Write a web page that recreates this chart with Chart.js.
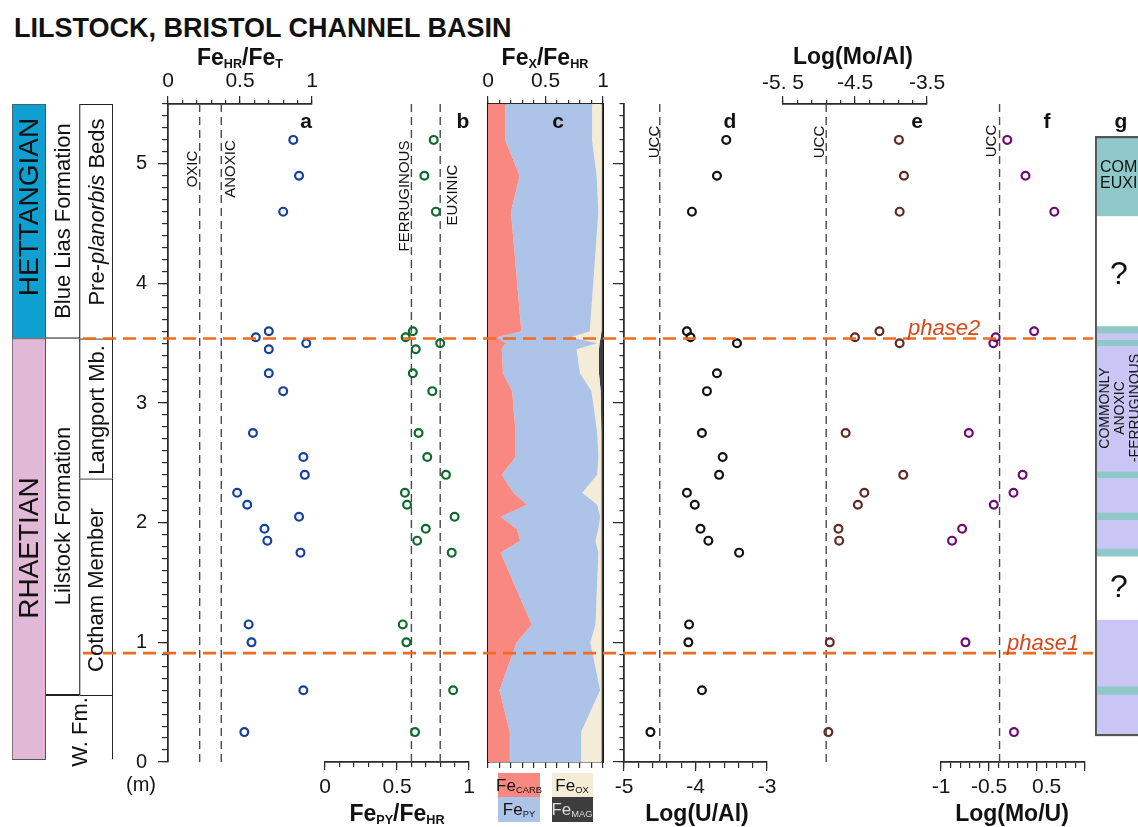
<!DOCTYPE html>
<html>
<head>
<meta charset="utf-8">
<script src="https://cdn.jsdelivr.net/npm/chart.js@4.4.1/dist/chart.umd.min.js"></script>
<style>
  html, body { margin: 0; padding: 0; background: #fff; }
  #stage { position: relative; width: 1138px; height: 827px; overflow: hidden;
           font-family: "Liberation Sans", Arial, sans-serif; color: #111; }
  #stage canvas { position: absolute; }
  .t { position: absolute; white-space: nowrap; line-height: 1; transform: translate(-50%, -50%); }
  .l { transform: translate(0, -50%); }
  .r { transform: translate(-50%, -50%) rotate(-90deg); }
  .b { font-weight: bold; }
  .box { position: absolute; }
  sub { font-size: 0.55em; vertical-align: -0.3em; line-height: 0; }
</style>
</head>
<body>
<div id="stage"></div>
<script>
// ---- data (depth in m) ----
const depthTicks = [0, 1, 2, 3, 4, 5];

// panels a and b
const depthAB = [5.2, 4.9, 4.6, 3.6, 3.55, 3.5, 3.45, 3.25, 3.1, 2.75, 2.55, 2.4, 2.25, 2.15, 2.05, 1.95, 1.85, 1.75, 1.15, 1.0, 0.6, 0.25];
const feHrFeT = [0.87, 0.91, 0.80, 0.70, 0.61, 0.96, 0.70, 0.70, 0.80, 0.59, 0.94, 0.95, 0.48, 0.55, 0.91, 0.67, 0.69, 0.92, 0.56, 0.58, 0.94, 0.53];
const fePyFeHr = [0.755, 0.69, 0.77, 0.61, 0.56, 0.80, 0.63, 0.61, 0.745, 0.65, 0.71, 0.84, 0.555, 0.57, 0.90, 0.70, 0.64, 0.88, 0.54, 0.565, 0.89, 0.625];
const feHrFeTLimits = [0.22, 0.37];   // OXIC, ANOXIC
const fePyFeHrLimits = [0.6, 0.8];    // FERRUGINOUS, EUXINIC
const feTicks = [0, 0.5, 1];

// panel c (Fe speciation fractions)
const cDepth = [0, 0.25, 0.6, 1.0, 1.15, 1.75, 1.85, 1.95, 2.05, 2.15, 2.25, 2.4, 2.55, 2.75, 3.1, 3.25, 3.45, 3.5, 3.55, 3.6, 4.6, 4.9, 5.2, 5.5];
const feCarb = [0.19, 0.19, 0.10, 0.25, 0.38, 0.11, 0.28, 0.25, 0.11, 0.34, 0.22, 0.12, 0.24, 0.24, 0.21, 0.13, 0.12, 0.15, 0.08, 0.29, 0.20, 0.275, 0.15, 0.15];
const fePy = [0.62, 0.62, 0.875, 0.64, 0.555, 0.85, 0.655, 0.71, 0.865, 0.61, 0.60, 0.83, 0.72, 0.71, 0.69, 0.67, 0.65, 0.80, 0.64, 0.595, 0.76, 0.67, 0.755, 0.755];
const feOx = [0.178, 0.178, 0.013, 0.098, 0.053, 0.025, 0.05, 0.025, 0.01, 0.035, 0.165, 0.035, 0.025, 0.035, 0.08, 0.165, 0.195, 0.02, 0.26, 0.10, 0.028, 0.043, 0.083, 0.083];
const feMag = [0.012, 0.012, 0.012, 0.012, 0.012, 0.015, 0.015, 0.015, 0.015, 0.015, 0.015, 0.015, 0.015, 0.015, 0.02, 0.035, 0.035, 0.03, 0.02, 0.015, 0.012, 0.012, 0.012, 0.012];

// panel d
const depthD = [5.2, 4.9, 4.6, 3.6, 3.55, 3.5, 3.25, 3.1, 2.75, 2.55, 2.4, 2.25, 2.15, 1.95, 1.85, 1.75, 1.15, 1.0, 0.6, 0.25];
const logUAl = [-3.57, -3.70, -4.05, -4.12, -4.07, -3.42, -3.70, -3.84, -3.91, -3.62, -3.67, -4.12, -4.01, -3.93, -3.82, -3.39, -4.09, -4.10, -3.91, -4.63];
const uccUAl = -4.5;
const uAlTicks = [-5, -4, -3];

// panels e and f
const depthEF = [5.2, 4.9, 4.6, 3.6, 3.55, 3.5, 2.75, 2.4, 2.25, 2.15, 1.95, 1.85, 1.0, 0.25];
const logMoAl = [-3.89, -3.82, -3.88, -4.16, -4.50, -3.88, -4.63, -3.83, -4.37, -4.46, -4.73, -4.72, -4.85, -4.87];
const logMoU = [-0.31, -0.12, 0.18, -0.03, -0.43, -0.455, -0.71, -0.15, -0.245, -0.45, -0.78, -0.885, -0.745, -0.24];
const uccMoAl = -4.9;
const uccMoU = -0.39;
const moAlTicks = [-5.5, -4.5, -3.5];
const moAlTickText = ['-5. 5', '-4.5', '-3.5'];
const moUTickText = ['-1', '-0.5', '0.5'];

// panel g (redox interpretation)
const gBase = [0.217, 0.56, 0.629, 1.186, 1.715, 1.78, 2.02, 2.08, 2.37, 2.425, 3.475, 3.525, 3.58, 3.64, 4.56];
const gTop = [0.56, 0.629, 1.186, 1.715, 1.78, 2.02, 2.08, 2.37, 2.425, 3.475, 3.525, 3.58, 3.64, 4.56, 5.23];
const gState = ['anoxic', 'euxinic', 'anoxic', 'unknown', 'euxinic', 'anoxic', 'euxinic', 'anoxic', 'euxinic',
                'anoxic', 'euxinic', 'anoxic', 'euxinic', 'unknown', 'euxinic'];

// stratigraphy
const stageSpan = [[3.54, 5.5], [0.02, 3.54]];          // HETTANGIAN, RHAETIAN
const formationSpan = [[3.54, 5.5], [0.56, 3.54]];      // Blue Lias, Lilstock
const memberSpan = [[3.54, 5.5], [2.37, 3.54], [0.56, 2.37]]; // Pre-planorbis, Langport, Cotham
const wFmSpan = [0.02, 0.56];

// event horizons
const phaseDepth = [0.91, 3.54];

// ---- drawing ----
const FONT = '"Liberation Sans", Arial, sans-serif';
const INK = '#2b2b2b';
Chart.defaults.font.family = FONT;
Chart.defaults.color = '#111';

const stage = document.getElementById('stage');
const TOP = 104, BOT = 762, M = 60, LAB = 50;

function steps(a, b, s) {
  const n = Math.round((b - a) / s);
  return Array.from({ length: n + 1 }, (_, i) => +(a + i * s).toFixed(6));
}

function makeChart(x0, x1, config) {
  const cv = document.createElement('canvas');
  const w = x1 - x0 + 2 * M, h = BOT - TOP + 2 * M;
  cv.width = w; cv.height = h;
  cv.style.cssText = `left:${x0 - M}px;top:${TOP - M}px;width:${w}px;height:${h}px`;
  stage.appendChild(cv);
  // axes carrying labels get a real box; shrink the padding on that side by the same amount
  const pad = { top: M, bottom: M, left: M, right: M };
  Object.values((config.options || {}).scales || {}).forEach(s => {
    if (s.ticks && s.ticks.display && s.position) pad[s.position] = M - LAB;
  });
  config.options = Object.assign({
    responsive: false, animation: false, events: [], devicePixelRatio: 1,
    layout: { padding: pad },
    plugins: { legend: { display: false }, tooltip: { enabled: false } }
  }, config.options);
  return new Chart(cv, config);
}

function tickAxis(position, min, max, values, len, lab) {
  const horiz = position === 'top' || position === 'bottom';
  const size = lab ? LAB : 0;
  return {
    type: 'linear', axis: horiz ? 'x' : 'y', position, min, max, weight: lab ? 2 : 0,
    afterFit: s => { if (horiz) s.height = size; else s.width = size; },
    afterBuildTicks: s => { s.ticks = values.map(v => ({ value: v })); },
    grid: { drawOnChartArea: false, drawTicks: true, tickLength: len, color: INK, tickColor: INK, lineWidth: 1.2, tickWidth: 1.2 },
    border: { display: true, color: INK, width: 1.5 },
    ticks: {
      display: !!lab, autoSkip: false, maxRotation: 0, minRotation: 0,
      padding: lab ? lab.pad : 0, color: '#151515',
      font: { family: FONT, size: lab ? lab.size : 12 },
      callback: v => {
        if (!lab) return '';
        const i = lab.at.findIndex(a => Math.abs(a - v) < 1e-6);
        return i < 0 ? '' : lab.text[i];
      }
    }
  };
}
function edgeAxis(position) {
  return {
    type: 'linear', axis: 'y', position, min: 0, max: 5.5,
    afterFit: s => { s.width = 0; },
    afterBuildTicks: s => { s.ticks = [{ value: 0 }, { value: 5.5 }]; },
    grid: { drawOnChartArea: false, drawTicks: false },
    ticks: { display: false },
    border: { display: true, color: '#151515', width: 2 }
  };
}
const hiddenDepth = { type: 'linear', min: 0, max: 5.5, display: false };

function points(xs, ys, color) {
  return {
    type: 'scatter', data: xs.map((v, i) => ({ x: v, y: ys[i] })), clip: false,
    pointStyle: 'circle', pointRadius: 3.9, pointBorderWidth: 2.2,
    pointBorderColor: color, pointBackgroundColor: 'rgba(0,0,0,0)', borderColor: color
  };
}
function vline(v) {
  return {
    type: 'scatter', showLine: true, data: [{ x: v, y: 0 }, { x: v, y: 5.5 }],
    borderColor: '#4a4a4a', borderWidth: 1.4, borderDash: [8, 5], pointRadius: 0
  };
}
const depthLabels = { at: depthTicks, text: depthTicks.map(String), size: 20, pad: 11 };
const feLabelsTop = { at: feTicks, text: ['0', '0.5', '1'], size: 21, pad: 2 };

// stratigraphic column
const stratSets = [];
const stageColor = ['#0f9fd0', '#e2b8d7'];
stageSpan.forEach((s, i) => stratSets.push({ data: [s, null, null], backgroundColor: stageColor[i], borderColor: '#555', borderWidth: 1 }));
formationSpan.forEach(s => stratSets.push({ data: [null, s, null], backgroundColor: '#fff', borderColor: '#222', borderWidth: { top: 0, left: 0, right: 0, bottom: 1.3 } }));
memberSpan.forEach(s => stratSets.push({ data: [null, null, s], backgroundColor: '#fff', borderColor: '#222', borderWidth: { top: 1.3, left: 1.3, right: 1.3, bottom: 0 } }));
stratSets.push({ data: [null, wFmSpan, null], backgroundColor: '#fff', borderColor: '#222', borderWidth: { top: 1.3, left: 0, right: 0, bottom: 0 } });
stratSets.push({ data: [null, null, wFmSpan], backgroundColor: '#fff', borderColor: '#222', borderWidth: { top: 1.3, left: 0, right: 1.3, bottom: 0 } });
stratSets.forEach(d => Object.assign(d, { grouped: false, barPercentage: 1, categoryPercentage: 1, borderSkipped: false }));
makeChart(12, 113, {
  type: 'bar',
  data: { labels: ['stage', 'formation', 'member'], datasets: stratSets },
  options: { scales: { x: { display: false }, y: hiddenDepth } }
});

// a
makeChart(168, 312, {
  type: 'scatter',
  data: { datasets: [points(feHrFeT, depthAB, '#15409e'), ...feHrFeTLimits.map(vline)] },
  options: { scales: {
    x: tickAxis('top', 0, 1, steps(0, 1, 0.1), 4),
    xM: tickAxis('top', 0, 1, feTicks, 8, feLabelsTop),
    y: tickAxis('left', 0, 5.5, steps(0, 5.5, 0.1), 6),
    yM: tickAxis('left', 0, 5.5, depthTicks, 10, depthLabels)
  } }
});

// b
makeChart(325, 469, {
  type: 'scatter',
  data: { datasets: [points(fePyFeHr, depthAB, '#0d6a2c'), ...fePyFeHrLimits.map(vline)] },
  options: { scales: {
    x: tickAxis('bottom', 0, 1, steps(0, 1, 0.1), 5),
    xM: tickAxis('bottom', 0, 1, feTicks, 8, { at: feTicks, text: ['0', '0.5', '1'], size: 21, pad: 5 }),
    y: hiddenDepth
  } }
});

// c : stacked Fe speciation
const parts = [feCarb, fePy, feOx, feMag];
const partColor = ['#f98880', '#adc3e8', '#f4ecd6', '#3d3d3d'];
let run = cDepth.map(() => 0);
const cSets = [{ data: cDepth.map(d => ({ x: 0, y: d })), fill: false }];
parts.forEach((arr, k) => {
  run = run.map((v, i) => v + arr[i]);
  cSets.push({ data: run.map((v, i) => ({ x: v, y: cDepth[i] })), fill: '-1', backgroundColor: partColor[k] });
});
cSets.forEach(d => Object.assign(d, { borderWidth: 0, borderColor: 'rgba(0,0,0,0)', pointRadius: 0, tension: 0 }));
makeChart(488, 603, {
  type: 'line',
  data: { datasets: cSets },
  options: {
    indexAxis: 'y',
    scales: {
      x: tickAxis('top', 0, 1, steps(0, 1, 0.1), 4),
      xM: tickAxis('top', 0, 1, feTicks, 8, feLabelsTop),
      xB: tickAxis('bottom', 0, 1, steps(0, 1, 0.1), 6),
      y: edgeAxis('left'),
      yR: edgeAxis('right')
    }
  }
});

// d
makeChart(624, 767, {
  type: 'scatter',
  data: { datasets: [points(logUAl, depthD, '#111'), vline(uccUAl)] },
  options: { scales: {
    x: tickAxis('bottom', -5, -3, steps(-5, -3, 0.2), 6),
    xM: tickAxis('bottom', -5, -3, uAlTicks, 9, { at: uAlTicks, text: uAlTicks.map(String), size: 21, pad: 4 }),
    y: tickAxis('left', 0, 5.5, steps(0, 5.5, 0.1), 4.5),
    yM: tickAxis('left', 0, 5.5, depthTicks, 11)
  } }
});

// e
makeChart(783, 927, {
  type: 'scatter',
  data: { datasets: [points(logMoAl, depthEF, '#5f2a22'), vline(uccMoAl)] },
  options: { scales: {
    x: tickAxis('top', -5.5, -3.5, steps(-5.5, -3.5, 0.2), 4),
    xM: tickAxis('top', -5.5, -3.5, moAlTicks, 8, { at: moAlTicks, text: moAlTickText, size: 21, pad: 0 }),
    y: hiddenDepth
  } }
});

// f
makeChart(941, 1085, {
  type: 'scatter',
  data: { datasets: [points(logMoU, depthEF, '#6c0c72'), vline(uccMoU)] },
  options: { scales: {
    x: tickAxis('bottom', -1, 0.5, steps(-1, 0.5, 0.1), 6, { at: [-1, -0.5, 0.1], text: moUTickText, size: 21, pad: 7 }),
    xM: tickAxis('bottom', -1, 0.5, [-1, -0.5, 0, 0.5], 9),
    y: hiddenDepth
  } }
});

// g
const stateColor = { euxinic: '#8fc8c8', anoxic: '#c9c6f5', unknown: '#ffffff' };
const gSets = [{ data: [[gBase[0], gTop[gTop.length - 1]]], backgroundColor: 'rgba(0,0,0,0)', borderColor: '#555', borderWidth: 1.6 }];
gState.forEach((s, i) => gSets.push({ data: [[gBase[i], gTop[i]]], backgroundColor: stateColor[s], borderWidth: 0 }));
gSets.forEach(d => Object.assign(d, { grouped: false, barPercentage: 1, categoryPercentage: 1, borderSkipped: false }));
makeChart(1095, 1195, {
  type: 'bar',
  data: { labels: ['g'], datasets: gSets },
  options: { scales: { x: { display: false }, y: hiddenDepth } }
});

// phase lines across the panels
makeChart(83, 1093, {
  type: 'scatter',
  data: { datasets: phaseDepth.map(d => ({
    showLine: true, data: [{ x: 0, y: d }, { x: 1, y: d }],
    borderColor: '#f26b1d', borderWidth: 2.6, borderDash: [13, 7], pointRadius: 0
  })) },
  options: { scales: { x: { type: 'linear', min: 0, max: 1, display: false }, y: hiddenDepth } }
});

// ---- text ----
function txt(html, x, y, size, cls, extra) {
  const s = document.createElement('span');
  s.className = 't ' + (cls || '');
  s.innerHTML = html;
  s.style.left = x + 'px';
  s.style.top = y + 'px';
  s.style.fontSize = size + 'px';
  if (extra) s.style.cssText += extra;
  stage.appendChild(s);
}
function box(x, y, w, h, color) {
  const d = document.createElement('div');
  d.className = 'box';
  d.style.cssText = `left:${x}px;top:${y}px;width:${w}px;height:${h}px;background:${color}`;
  stage.appendChild(d);
}

txt('LILSTOCK, BRISTOL CHANNEL BASIN', 14, 28, 27, 'b l');
txt('Fe<sub>HR</sub>/Fe<sub>T</sub>', 240, 57, 23, 'b');
txt('Fe<sub>X</sub>/Fe<sub>HR</sub>', 545, 57, 23, 'b');
txt('Log(Mo/Al)', 853, 56, 23, 'b');
txt('Fe<sub>PY</sub>/Fe<sub>HR</sub>', 397, 813, 23, 'b');
txt('Log(U/Al)', 697, 813, 23, 'b');
txt('Log(Mo/U)', 1012, 813, 23, 'b');
[['a', 306], ['b', 463], ['c', 558], ['d', 730], ['e', 917], ['f', 1047], ['g', 1121]]
  .forEach(([c, x]) => txt(c, x, 120, 21, 'b'));
txt('(m)', 141, 784, 20);

txt('OXIC', 191, 169, 15, 'r');
txt('ANOXIC', 229, 169, 15, 'r');
txt('FERRUGINOUS', 403, 196, 15, 'r');
txt('EUXINIC', 451, 195, 15, 'r');
txt('UCC', 653, 142, 15, 'r');
txt('UCC', 818, 142, 15, 'r');
txt('UCC', 990, 141, 15, 'r');

txt('HETTANGIAN', 29, 207, 28, 'r');
txt('RHAETIAN', 29, 548, 28, 'r');
txt('Blue Lias Formation', 63, 221, 22, 'r');
txt('Pre-<i>planorbis</i> Beds', 97, 212, 22, 'r');
txt('Langport Mb.', 97, 410, 22, 'r');
txt('Lilstock Formation', 63, 516, 22, 'r');
txt('Cotham Member', 96, 590, 22, 'r');
txt('W. Fm.', 80, 732, 22, 'r');

txt('phase2', 908, 328, 22, 'l', 'font-style:italic;color:#d8461b;');
txt('phase1', 1007, 643, 22, 'l', 'font-style:italic;color:#d8461b;');

// legend of panel c
box(498, 773, 42, 24, partColor[0]);
box(498, 797, 42, 25, partColor[1]);
box(552, 773, 41, 24, partColor[2]);
box(552, 797, 41, 25, partColor[3]);
txt('Fe<sub>CARB</sub>', 519, 785, 17);
txt('Fe<sub>PY</sub>', 519, 809, 17);
txt('Fe<sub>OX</sub>', 572, 785, 17);
txt('Fe<sub>MAG</sub>', 572, 809, 17, '', 'color:#ddd;');

// panel g text
txt('COMMONLY<br>EUXINIC', 1100, 175, 16, 'l', 'line-height:16px;');
txt('?', 1119, 273, 32);
txt('?', 1119, 586, 32);
txt('COMMONLY<br>ANOXIC<br>-FERRUGINOUS', 1119, 408, 14, 'r', 'line-height:15px;text-align:center;');
</script>
</body>
</html>
